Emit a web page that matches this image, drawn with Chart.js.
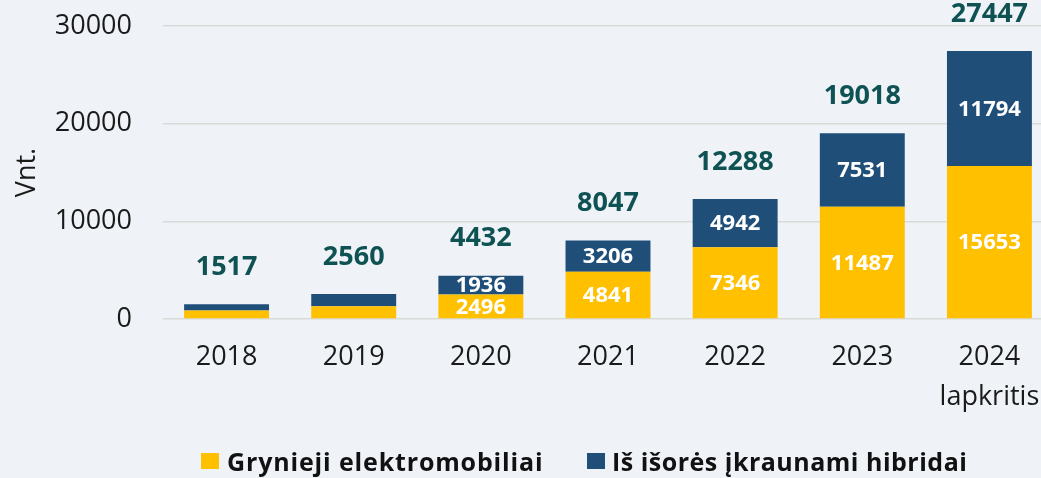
<!DOCTYPE html>
<html>
<head>
<meta charset="utf-8">
<script src="https://cdn.jsdelivr.net/npm/chart.js@4.4.1/dist/chart.umd.min.js"></script>
<style>
  html, body { margin: 0; padding: 0; background: #eff3f7; overflow: hidden; width: 1041px; height: 478px; }
  #wrap { position: absolute; left: 0; top: 0; width: 1053px; height: 478px; }
  .legend { position: absolute; top: 446px; font-family: "Open Sans", sans-serif; font-weight: bold; font-size: 25px; color: #111111; white-space: nowrap; line-height: 30px; }
  .legend span.box { position: absolute; left: 0; top: 7px; width: 18px; height: 16px; }
  .legend span.txt { position: absolute; top: 0; }
</style>
</head>
<body>
<div id="wrap"><canvas id="evChart"></canvas></div>
<div class="legend" style="left:201px"><span class="box" style="background:#ffc000"></span><span class="txt" style="left:26px; letter-spacing:0.85px">Grynieji elektromobiliai</span></div>
<div class="legend" style="left:587px"><span class="box" style="background:#1f4e79"></span><span class="txt" style="left:25px; letter-spacing:0.5px">Iš išorės įkraunami hibridai</span></div>
<script>
const years = [["2018"], ["2019"], ["2020"], ["2021"], ["2022"], ["2023"], ["2024", "lapkritis"]];
const bev = [870, 1300, 2496, 4841, 7346, 11487, 15653];
const phev = [647, 1260, 1936, 3206, 4942, 7531, 11794];
const totals = [1517, 2560, 4432, 8047, 12288, 19018, 27447];
const yTicks = [0, 10000, 20000, 30000];

// labels in segments and totals above bars
const barLabels = {
  id: "barLabels",
  afterDatasetsDraw(chart) {
    const ctx = chart.ctx;
    ctx.save();
    ctx.textAlign = "center";
    ctx.textBaseline = "middle";
    ctx.font = "bold 22px 'Open Sans'";
    ctx.fillStyle = "#ffffff";
    chart.data.datasets.forEach((ds, di) => {
      chart.getDatasetMeta(di).data.forEach((bar, i) => {
        const h = bar.base - bar.y;
        if (h > 15) {
          ctx.fillText(String(ds.data[i]), bar.x, (bar.y + bar.base) / 2 + 1);
        }
      });
    });
    ctx.font = "bold 27px 'Open Sans'";
    ctx.fillStyle = "#0f5253";
    chart.getDatasetMeta(1).data.forEach((bar, i) => {
      ctx.fillText(String(totals[i]), bar.x, bar.y - 37);
    });
    ctx.restore();
  }
};

function noPad(scale) {
  scale.paddingTop = 0;
  scale.paddingBottom = 0;
  scale.paddingLeft = 0;
  scale.paddingRight = 0;
}

new Chart(document.getElementById("evChart"), {
  type: "bar",
  data: {
    labels: years,
    datasets: [
      { label: "Grynieji elektromobiliai", data: bev, backgroundColor: "#ffc000", barPercentage: 0.668, categoryPercentage: 1 },
      { label: "Iš išorės įkraunami hibridai", data: phev, backgroundColor: "#1f4e79", barPercentage: 0.668, categoryPercentage: 1 }
    ]
  },
  options: {
    responsive: true,
    maintainAspectRatio: false,
    animation: false,
    layout: { padding: { top: 26, right: 0, bottom: 0, left: 0 } },
    plugins: {
      legend: { display: false },
      tooltip: { enabled: false }
    },
    scales: {
      x: {
        stacked: true,
        grid: { display: false, drawTicks: false },
        border: { display: false },
        ticks: {
          color: "#1a1a1a",
          padding: 18,
          font: { family: "'Open Sans'", size: 27, lineHeight: 1.5 }
        },
        afterFit(scale) { scale.height = 159; noPad(scale); }
      },
      y: {
        stacked: true,
        min: 0,
        max: 30000,
        afterBuildTicks(scale) { scale.ticks = yTicks.map(v => ({ value: v })); },
        grid: { color: "#d9d9d9", lineWidth: 1.5, drawTicks: false },
        border: { display: false },
        ticks: {
          color: "#1a1a1a",
          padding: 31,
          font: { family: "'Open Sans'", size: 27 },
          callback: v => String(v)
        },
        title: {
          display: true,
          text: "Vnt.",
          color: "#1a1a1a",
          padding: { top: 11, bottom: 0 },
          font: { family: "'Open Sans'", size: 27 }
        },
        afterFit(scale) { scale.width = 163; noPad(scale); }
      }
    }
  },
  plugins: [barLabels]
});
</script>
</body>
</html>
